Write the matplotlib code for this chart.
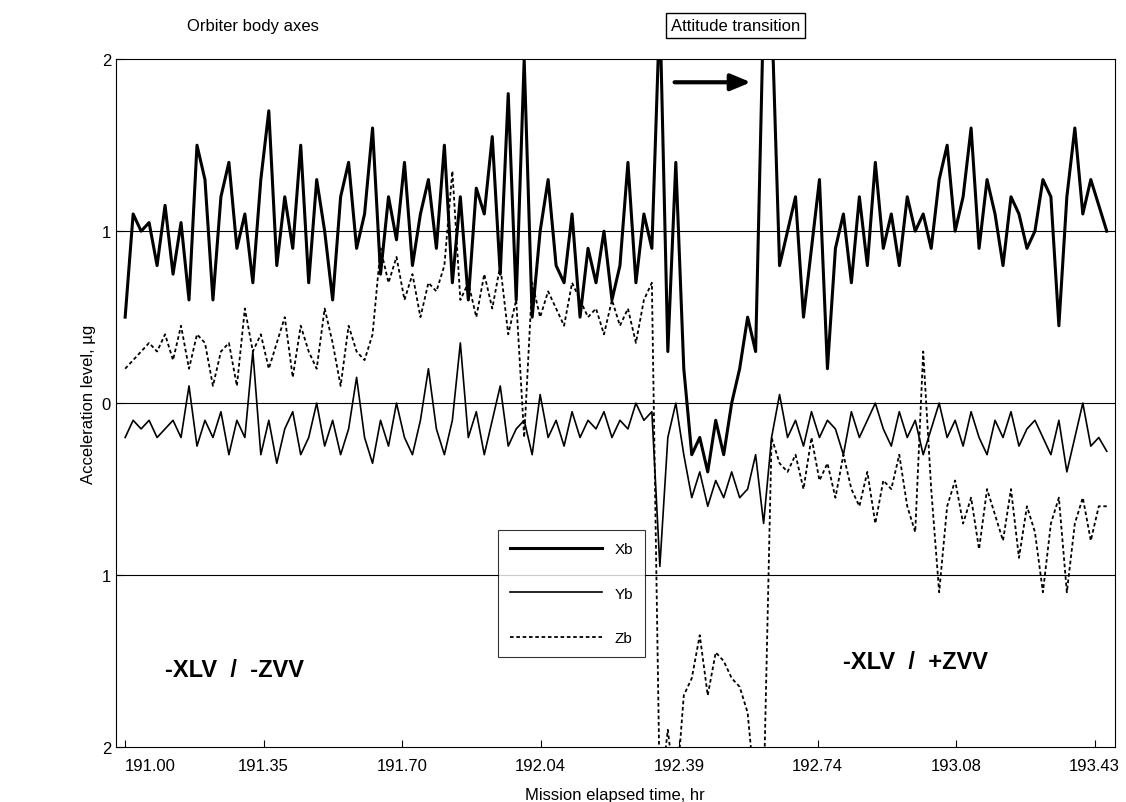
import numpy as np
import matplotlib.pyplot as plt
from matplotlib.lines import Line2D

plt.rcParams['font.family'] = ['Liberation Sans', 'DejaVu Sans']

# Sample values (step 0.02 hr from 191.00)
xb = [0.5, 1.1, 1.0, 1.05, 0.8, 1.15, 0.75, 1.05, 0.6, 1.5, 1.3, 0.6, 1.2, 1.4, 0.9, 1.1, 0.7, 1.3, 1.7, 0.8,
      1.2, 0.9, 1.5, 0.7, 1.3, 1.0, 0.6, 1.2, 1.4, 0.9, 1.1, 1.6, 0.75, 1.2, 0.95, 1.4, 0.8, 1.1, 1.3, 0.9,
      1.5, 0.7, 1.2, 0.6, 1.25, 1.1, 1.55, 0.75, 1.8, 0.6, 2.0, 0.5, 1.0, 1.3, 0.8, 0.7, 1.1, 0.5, 0.9, 0.7,
      1.0, 0.6, 0.8, 1.4, 0.7, 1.1, 0.9,
      2.3, 0.3, 1.4, 0.2, -0.3, -0.2, -0.4, -0.1, -0.3, 0.0, 0.2, 0.5, 0.3, 2.3, 2.3, 0.8,
      1.0, 1.2, 0.5, 0.9, 1.3, 0.2, 0.9, 1.1, 0.7, 1.2, 0.8, 1.4, 0.9, 1.1, 0.8, 1.2, 1.0, 1.1, 0.9, 1.3,
      1.5, 1.0, 1.2, 1.6, 0.9, 1.3, 1.1, 0.8, 1.2, 1.1, 0.9, 1.0, 1.3, 1.2, 0.45, 1.2, 1.6, 1.1, 1.3, 1.15, 1.0]
yb = [-0.2, -0.1, -0.15, -0.1, -0.2, -0.15, -0.1, -0.2, 0.1, -0.25, -0.1, -0.2, -0.05, -0.3, -0.1, -0.2, 0.3, -0.3, -0.1, -0.35,
      -0.15, -0.05, -0.3, -0.2, 0.0, -0.25, -0.1, -0.3, -0.15, 0.15, -0.2, -0.35, -0.1, -0.25, 0.0, -0.2, -0.3, -0.1, 0.2, -0.15,
      -0.3, -0.1, 0.35, -0.2, -0.05, -0.3, -0.1, 0.1, -0.25, -0.15, -0.1, -0.3, 0.05, -0.2, -0.1, -0.25, -0.05, -0.2, -0.1, -0.15,
      -0.05, -0.2, -0.1, -0.15, 0.0, -0.1, -0.05,
      -0.95, -0.2, 0.0, -0.3, -0.55, -0.4, -0.6, -0.45, -0.55, -0.4, -0.55, -0.5, -0.3, -0.7, -0.2, 0.05,
      -0.2, -0.1, -0.25, -0.05, -0.2, -0.1, -0.15, -0.3, -0.05, -0.2, -0.1, 0.0, -0.15, -0.25, -0.05, -0.2, -0.1, -0.3, -0.15, 0.0,
      -0.2, -0.1, -0.25, -0.05, -0.2, -0.3, -0.1, -0.2, -0.05, -0.25, -0.15, -0.1, -0.2, -0.3, -0.1, -0.4, -0.2, 0.0, -0.25, -0.2, -0.28]
zb = [0.2, 0.25, 0.3, 0.35, 0.3, 0.4, 0.25, 0.45, 0.2, 0.4, 0.35, 0.1, 0.3, 0.35, 0.1, 0.55, 0.3, 0.4, 0.2, 0.35,
      0.5, 0.15, 0.45, 0.3, 0.2, 0.55, 0.35, 0.1, 0.45, 0.3, 0.25, 0.4, 0.9, 0.7, 0.85, 0.6, 0.75, 0.5, 0.7, 0.65,
      0.8, 1.35, 0.6, 0.7, 0.5, 0.75, 0.55, 0.8, 0.4, 0.6, -0.2, 0.7, 0.5, 0.65, 0.55, 0.45, 0.7, 0.6, 0.5, 0.55,
      0.4, 0.6, 0.45, 0.55, 0.35, 0.6, 0.7,
      -2.3, -1.9, -2.3, -1.7, -1.6, -1.35, -1.7, -1.45, -1.5, -1.6, -1.65, -1.8, -2.3, -2.3, -0.2, -0.35,
      -0.4, -0.3, -0.5, -0.2, -0.45, -0.35, -0.55, -0.3, -0.5, -0.6, -0.4, -0.7, -0.45, -0.5, -0.3, -0.6, -0.75, 0.3, -0.5, -1.1,
      -0.6, -0.45, -0.7, -0.55, -0.85, -0.5, -0.65, -0.8, -0.5, -0.9, -0.6, -0.75, -1.1, -0.7, -0.55, -1.1, -0.7, -0.55, -0.8, -0.6, -0.6]
t = 191.00 + 0.02 * np.arange(len(xb))

xticks = [191.00, 191.35, 191.70, 192.04, 192.39, 192.74, 193.08, 193.43]
yticks = [2, 1, 0, -1, -2]
ytick_labels = ['2', '1', '0', '1', '2']

fig = plt.figure(figsize=(11.26, 8.03), dpi=100)
ax = fig.add_axes([0.103, 0.0685, 0.887, 0.8565])

ax.plot(t, xb, color='black', lw=2.2)
ax.plot(t, yb, color='black', lw=1.2)
ax.plot(t, zb, color='black', lw=1.3, ls=(0, (2, 1.5)))

for y in [1, 0, -1]:
    ax.axhline(y, color='black', lw=0.8)

ax.set_xlim(190.977, 193.48)
ax.set_ylim(-2, 2)
tick_pos = 191.00 + 0.3471 * np.arange(len(xticks))
ax.set_xticks(tick_pos)
labels = ax.set_xticklabels([f'{v:.2f}' for v in xticks], fontsize=12)
labels[0].set_ha('left')
labels[0].set_x(190.97)
ax.set_yticks(yticks)
ax.set_yticklabels(ytick_labels, fontsize=12)
ax.tick_params(direction='in', length=5)
ax.tick_params(axis='x', pad=8)
ax.set_xlabel('Mission elapsed time, hr', fontsize=12, labelpad=10)
ax.set_ylabel('Acceleration level, µg', fontsize=12)

ax.text(191.10, -1.55, '-XLV  /  -ZVV', fontsize=17, fontweight='bold', va='center')
ax.text(192.80, -1.5, '-XLV  /  +ZVV', fontsize=17, fontweight='bold', va='center')
ax.text(191.32, 2.17, 'Orbiter body axes', fontsize=12, ha='center')
ax.text(192.53, 2.17, 'Attitude transition', fontsize=12, ha='center',
        bbox=dict(boxstyle='square,pad=0.3', fc='white', ec='black'))
ax.annotate('', xy=(192.575, 1.866), xytext=(192.37, 1.866),
            arrowprops=dict(arrowstyle='-|>,head_length=1.2,head_width=0.5', color='black', lw=3))

handles = [Line2D([], [], color='black', lw=2.2),
           Line2D([], [], color='black', lw=1.2),
           Line2D([], [], color='black', lw=1.3, ls=(0, (2, 1.5)))]
leg = ax.legend(handles, ['Xb', 'Yb', 'Zb'], loc='upper left', bbox_to_anchor=(0.375, 0.327),
                fontsize=11, frameon=True, fancybox=False, edgecolor='black',
                handlelength=6, labelspacing=2.0, borderpad=0.8)
leg.get_frame().set_linewidth(0.8)

fig.savefig('out.png', dpi=100)
